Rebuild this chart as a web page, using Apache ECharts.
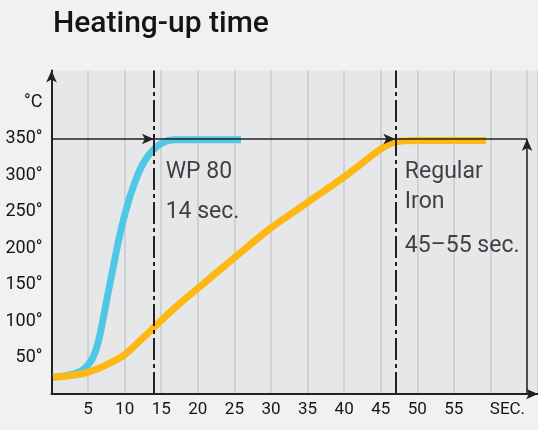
<!DOCTYPE html>
<html>
<head>
<meta charset="utf-8">
<script src="https://cdn.jsdelivr.net/npm/echarts@6/dist/echarts.min.js"></script>
<style>
  html, body { margin: 0; padding: 0; background: #f1f1f1; }
  #chart { width: 538px; height: 430px; }
</style>
</head>
<body>
<div id="chart"></div>
<script>
// WP 80 (blue) and regular iron (orange), temperature in °C over seconds
const wpX = [0.2, 2, 3.5, 4.5, 5.5, 6.3, 7.0, 7.7, 8.4, 9.2, 10.2, 11.3, 12.5, 13.8, 15.2, 16.7, 18.5, 25.9];
const wpY = [23, 25, 29, 35, 47, 68, 100, 137, 172, 212, 253, 288, 316, 334, 345, 349, 349, 349];
const ironX = [0.2, 2.5, 5, 7.5, 10, 12.5, 15, 17.5, 20, 22.5, 25, 30, 35, 40, 45, 47, 50, 59.4];
const ironY = [23, 25, 30, 40, 54, 77, 101, 124, 145, 166, 187, 228, 263, 298, 336, 346, 348, 348];

const targetTemp = 350;
const wpTime = 14;
const ironTime = 47;
const axisEnd = 65;

const yTopLabel = "°C";
const xEndLabel = "SEC.";

const noteText = ["WP 80", "14 sec.", "Regular", "Iron", "45–55 sec."];
const noteX = [15.6, 15.6, 48.3, 48.3, 48.3];
const noteY = [305, 250, 305, 263, 203];

const font = "Roboto, sans-serif";
const ink = "#161418";

const zip = (xs, ys) => xs.map((x, i) => [x, ys[i]]);

const chart = echarts.init(document.getElementById("chart"));

const option = {
  backgroundColor: "#f1f1f1",
  animation: false,
  title: {
    text: "Heating-up time",
    left: 48,
    top: 4,
    textStyle: { fontFamily: "Roboto", fontWeight: 500, fontSize: 30, color: ink }
  },
  grid: {
    left: 51.5, right: 0, top: 70.5, bottom: 36,
    outerBoundsMode: "none",
    containLabel: false,
    show: true, backgroundColor: "#e6e7e9", borderWidth: 0
  },
  xAxis: {
    type: "value",
    min: 0, max: 66.5, interval: 5,
    axisLine: {
      symbol: ["none", "arrow"], symbolSize: [8, 12],
      lineStyle: { color: "#222", width: 2 }
    },
    axisTick: { show: false },
    splitLine: { show: true, lineStyle: { color: "#c9cacc", width: 1.5 } },
    axisLabel: {
      interval: 0, margin: 7, fontFamily: font, fontSize: 17, color: ink,
      showMaxLabel: true,
      formatter: v => {
        if (v === 60) return "{sec|" + xEndLabel + "}";
        if (v > 0 && v < 60 && v % 5 === 0) return String(v);
        return "";
      },
      rich: { sec: { fontFamily: font, fontSize: 17, color: ink, padding: [0, 0, 0, 34] } }
    }
  },
  yAxis: {
    type: "value",
    min: 0, max: 444, interval: 50,
    axisLine: {
      symbol: ["none", "arrow"], symbolSize: [8, 12],
      lineStyle: { color: "#222", width: 2 }
    },
    axisTick: { show: false },
    splitLine: { show: false },
    axisLabel: {
      margin: 9, fontFamily: font, fontSize: 18, color: ink,
      showMaxLabel: true,
      formatter: v => {
        if (v === 400) return yTopLabel;
        if (v > 0 && v <= targetTemp && v % 50 === 0) return v + "°";
        return "";
      }
    }
  },
  series: [
    {
      // reference lines with arrows
      type: "line", data: [], z: 1, silent: true,
      markLine: {
        silent: true, animation: false,
        symbol: ["none", "arrow"], symbolSize: [8, 12],
        label: { show: false },
        lineStyle: { color: "#222", width: 1.5, type: "solid" },
        data: [
          [{ coord: [0, targetTemp] }, { coord: [wpTime, targetTemp] }],
          [{ coord: [wpTime, targetTemp] }, { coord: [ironTime, targetTemp] }],
          [{ coord: [ironTime, targetTemp] }, { coord: [axisEnd, targetTemp], symbol: "none" }],
          [{ coord: [axisEnd, 0] }, { coord: [axisEnd, targetTemp] }]
        ]
      }
    },
    {
      name: "WP 80", type: "line", z: 3, silent: true,
      data: zip(wpX, wpY), smooth: 0.3, showSymbol: false,
      lineStyle: { color: "#4fc8e5", width: 7, cap: "butt" }
    },
    {
      name: "Regular Iron", type: "line", z: 3, silent: true,
      data: zip(ironX, ironY), smooth: 0.3, showSymbol: false,
      lineStyle: { color: "#fdb813", width: 7, cap: "butt" }
    },
    {
      // dash-dot time markers
      type: "line", data: [], z: 4, silent: true,
      markLine: {
        silent: true, animation: false, symbol: "none",
        label: { show: false },
        lineStyle: { color: "#222", width: 2, type: [22, 4, 4, 4] },
        data: [{ xAxis: wpTime }, { xAxis: ironTime }]
      }
    },
    {
      type: "scatter", z: 5, silent: true, symbolSize: 0,
      data: noteText.map((t, i) => ({ value: [noteX[i], noteY[i]], name: t })),
      label: {
        show: true, position: [0, 0], align: "left", verticalAlign: "middle",
        formatter: p => p.name,
        fontFamily: font, fontSize: 23, color: ink
      }
    }
  ]
};

chart.setOption(option);
</script>
</body>
</html>
